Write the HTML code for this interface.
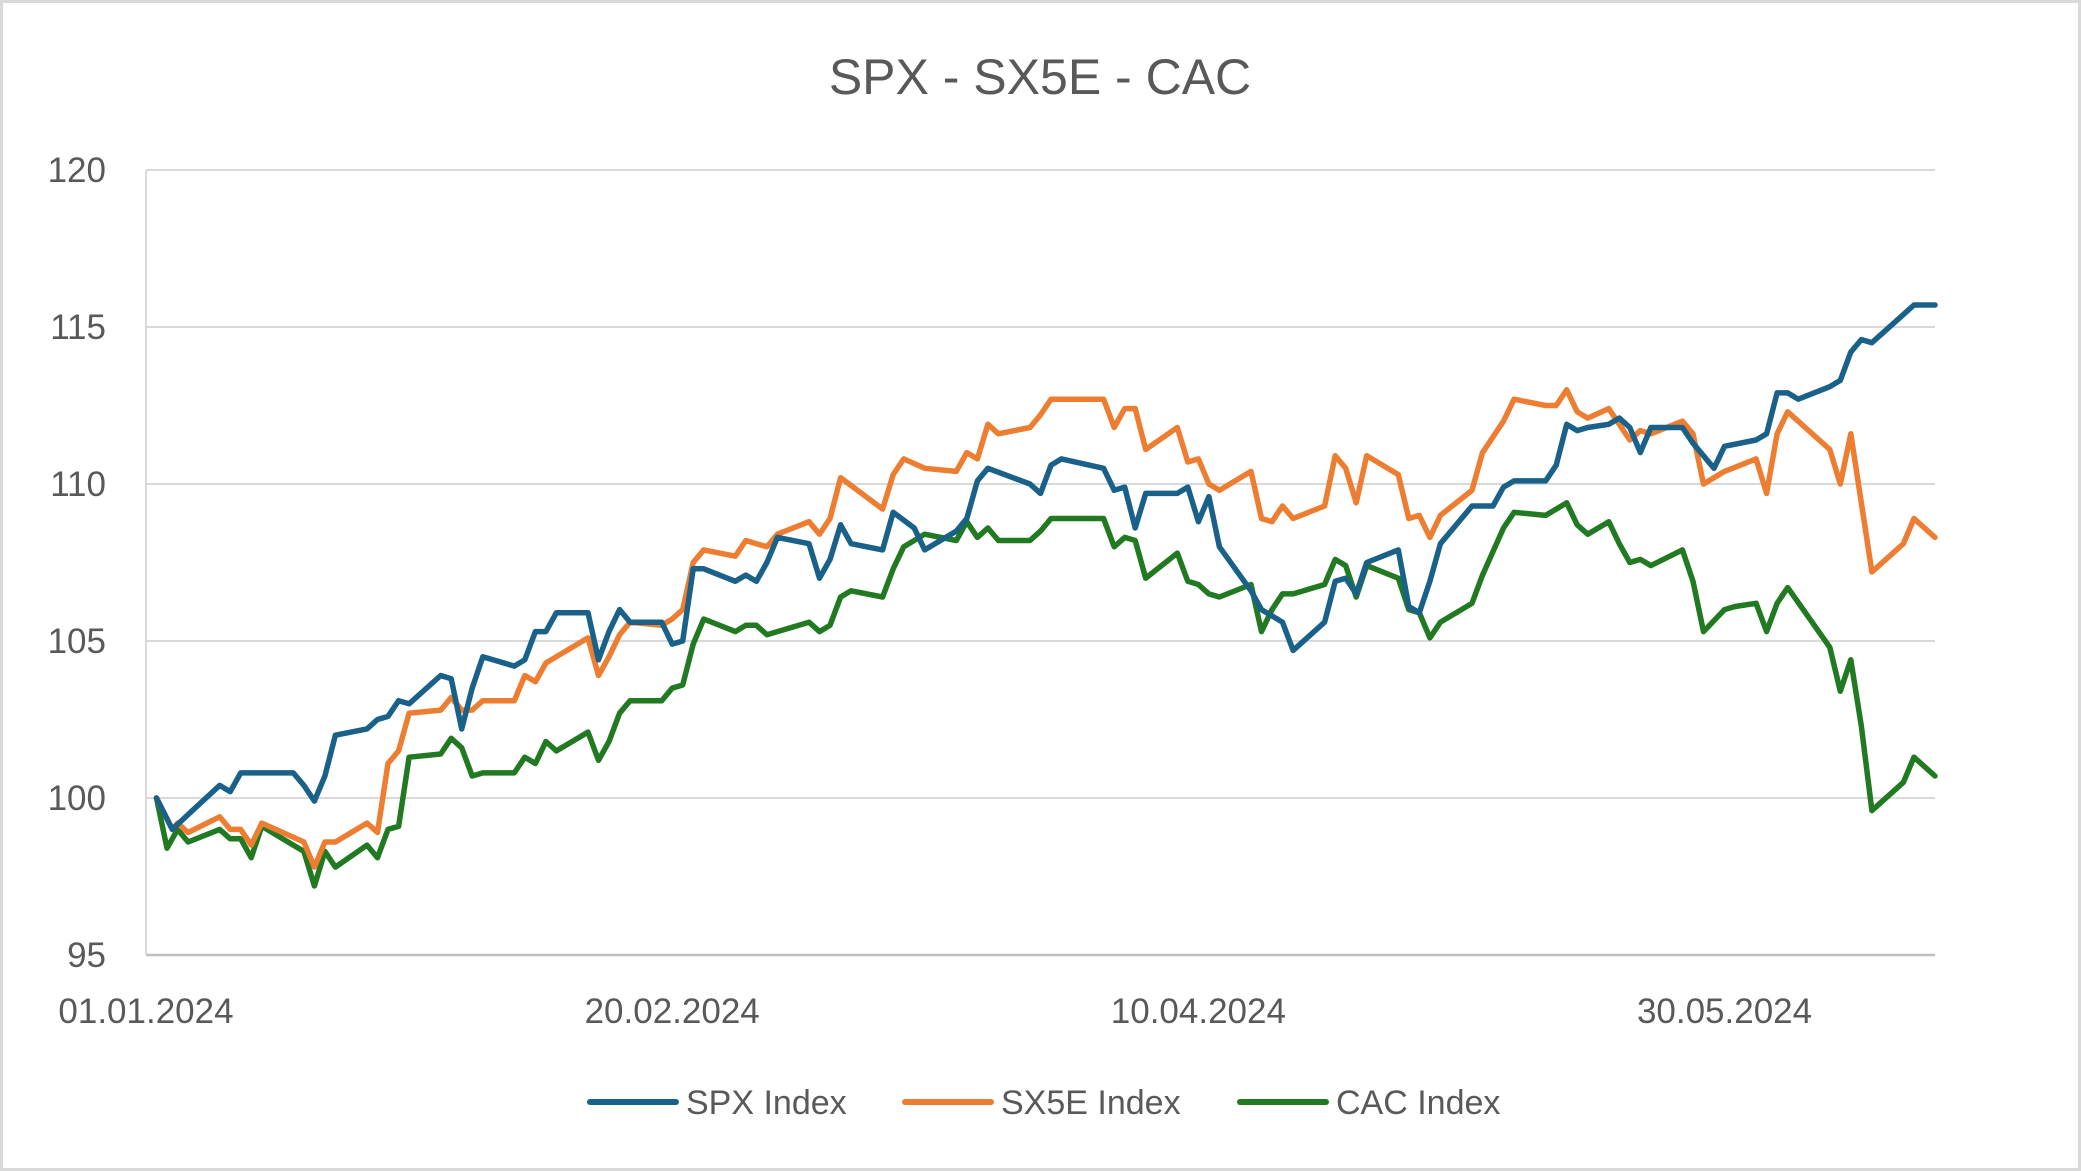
<!DOCTYPE html>
<html><head><meta charset="utf-8">
<style>
html,body{margin:0;padding:0;background:#fff;}
svg{display:block;font-family:"Liberation Sans",sans-serif;}
</style></head>
<body>
<svg id="chart" width="2081" height="1171" viewBox="0 0 2081 1171">
<rect x="1.5" y="1.5" width="2078" height="1168" fill="#fff" stroke="#d9d9d9" stroke-width="3"/>
<text x="1040" y="94" text-anchor="middle" font-size="50" fill="#595959">SPX - SX5E - CAC</text>
<g id="grid"></g>
<g id="series"></g>
<g id="legend">
<line x1="590" y1="1102" x2="676" y2="1102" stroke="#1a6189" stroke-width="6" stroke-linecap="round"/>
<text x="686" y="1114" font-size="34" fill="#595959">SPX Index</text>
<line x1="905" y1="1102" x2="991" y2="1102" stroke="#ed7d31" stroke-width="6" stroke-linecap="round"/>
<text x="1001" y="1114" font-size="34" fill="#595959">SX5E Index</text>
<line x1="1240" y1="1102" x2="1326" y2="1102" stroke="#217a21" stroke-width="6" stroke-linecap="round"/>
<text x="1336" y="1114" font-size="34" fill="#595959">CAC Index</text>
</g>
</svg>
<script>
const yTicks = [95,100,105,110,115,120];
const xTickDays = [0,50,100,150];
const xTickLabels = ["01.01.2024","20.02.2024","10.04.2024","30.05.2024"];
const spxDays = [1,2.5,4.4,7,8,9,10,14,15,16,17,18,21,22,23,24,25,28,29,30,31,32,35,36,37,38,39,42,43,44,45,46,49,50,51,52,53,56,57,58,59,60,63,64,65,66,67,70,71,73,74,77,78,79,80,84,85,86,87,91,92,93,94,95,98,99,100,101,102,105,106,108,109,112,113,114,115,116,119,120,121,122,123,126,128,129,130,133,134,135,136,137,139,140,141,142,143,146,147,149,150,153,154,155,156,157,160,161,162,163,164,168,170];
const spxVals = [100,99.0,99.6,100.4,100.2,100.8,100.8,100.8,100.4,99.9,100.7,102.0,102.2,102.5,102.6,103.1,103.0,103.9,103.8,102.2,103.5,104.5,104.2,104.4,105.3,105.3,105.9,105.9,104.4,105.3,106.0,105.6,105.6,104.9,105.0,107.3,107.3,106.9,107.1,106.9,107.5,108.3,108.1,107.0,107.6,108.7,108.1,107.9,109.1,108.6,107.9,108.5,108.9,110.1,110.5,110.0,109.7,110.6,110.8,110.5,109.8,109.9,108.6,109.7,109.7,109.9,108.8,109.6,108.0,106.6,106.0,105.6,104.7,105.6,106.9,107.0,106.5,107.5,107.9,106.1,105.9,106.9,108.1,109.3,109.3,109.9,110.1,110.1,110.6,111.9,111.7,111.8,111.9,112.1,111.8,111.0,111.8,111.8,111.3,110.5,111.2,111.4,111.6,112.9,112.9,112.7,113.1,113.3,114.2,114.6,114.5,115.7,115.7];
const sx5eDays = [1,2.5,3,4,7,8,9,10,11,15,16,17,18,21,22,23,24,25,28,29,30,31,32,35,36,37,38,39,42,43,44,45,46,49,50,51,52,53,56,57,58,59,60,63,64,65,66,70,71,72,74,77,78,79,80,81,84,85,86,91,92,93,94,95,98,99,100,101,102,105,106,107,108,109,112,113,114,115,116,119,120,121,122,123,126,127,129,130,133,134,135,136,137,139,140,141,142,143,146,147,148,150,153,154,155,156,160,161,162,164,167,168,170];
const sx5eVals = [100,99.0,99.2,98.9,99.4,99.0,99.0,98.5,99.2,98.6,97.8,98.6,98.6,99.2,98.9,101.1,101.5,102.7,102.8,103.2,102.8,102.8,103.1,103.1,103.9,103.7,104.3,104.5,105.1,103.9,104.5,105.2,105.6,105.5,105.7,106.0,107.5,107.9,107.7,108.2,108.1,108.0,108.4,108.8,108.4,108.9,110.2,109.2,110.3,110.8,110.5,110.4,111.0,110.8,111.9,111.6,111.8,112.2,112.7,112.7,111.8,112.4,112.4,111.1,111.8,110.7,110.8,110.0,109.8,110.4,108.9,108.8,109.3,108.9,109.3,110.9,110.5,109.4,110.9,110.3,108.9,109.0,108.3,109.0,109.8,111.0,112.0,112.7,112.5,112.5,113.0,112.3,112.1,112.4,111.9,111.4,111.7,111.6,112.0,111.6,110.0,110.4,110.8,109.7,111.6,112.3,111.1,110.0,111.6,107.2,108.1,108.9,108.3];
const cacDays = [1,2,3,4,7,8,9,10,11,14,15,16,17,18,21,22,23,24,25,28,29,30,31,32,35,36,37,38,39,42,43,44,45,46,49,50,51,52,53,56,57,58,59,63,64,65,66,67,70,71,72,74,77,78,79,80,81,84,85,86,91,92,93,94,95,98,99,100,101,102,105,106,107,108,109,112,113,114,115,116,119,120,121,122,123,126,127,129,130,133,134,135,136,137,139,140,141,142,143,146,147,148,150,151,153,154,155,156,160,161,162,163,164,167,168,170];
const cacVals = [100,98.4,99.0,98.6,99.0,98.7,98.7,98.1,99.1,98.5,98.3,97.2,98.3,97.8,98.5,98.1,99.0,99.1,101.3,101.4,101.9,101.6,100.7,100.8,100.8,101.3,101.1,101.8,101.5,102.1,101.2,101.8,102.7,103.1,103.1,103.5,103.6,104.9,105.7,105.3,105.5,105.5,105.2,105.6,105.3,105.5,106.4,106.6,106.4,107.3,108.0,108.4,108.2,108.8,108.3,108.6,108.2,108.2,108.5,108.9,108.9,108.0,108.3,108.2,107.0,107.8,106.9,106.8,106.5,106.4,106.8,105.3,106.0,106.5,106.5,106.8,107.6,107.4,106.4,107.4,107.0,106.0,105.9,105.1,105.6,106.2,107.1,108.6,109.1,109.0,109.2,109.4,108.7,108.4,108.8,108.1,107.5,107.6,107.4,107.9,106.9,105.3,106.0,106.1,106.2,105.3,106.2,106.7,104.8,103.4,104.4,102.3,99.6,100.5,101.3,100.7];

const NS = "http://www.w3.org/2000/svg";
const X0 = 146, X1 = 1935, DMAX = 170, Y0 = 955, Y1 = 170, VMIN = 95, VMAX = 120;
function xScale(d){ return X0 + (d / DMAX) * (X1 - X0); }
function yScale(v){ return Y0 - (v - VMIN) / (VMAX - VMIN) * (Y0 - Y1); }
const grid = document.getElementById('grid');
const series = document.getElementById('series');

yTicks.forEach(t => {
  const y = yScale(t);
  const ln = document.createElementNS(NS, 'line');
  ln.setAttribute('x1', X0); ln.setAttribute('x2', X1);
  ln.setAttribute('y1', y); ln.setAttribute('y2', y);
  ln.setAttribute('stroke', t === VMIN ? '#bfbfbf' : '#d9d9d9');
  ln.setAttribute('stroke-width', t === VMIN ? 2.5 : 2);
  
  
  grid.appendChild(ln);
  const tx = document.createElementNS(NS, 'text');
  tx.setAttribute('x', 106); tx.setAttribute('y', y + 12);
  tx.setAttribute('text-anchor', 'end'); tx.setAttribute('font-size', '35');
  tx.setAttribute('fill', '#595959');
  tx.textContent = t;
  
  
  grid.appendChild(tx);
});
const ax = document.createElementNS(NS, 'line');
ax.setAttribute('x1', X0); ax.setAttribute('x2', X0);
ax.setAttribute('y1', Y1); ax.setAttribute('y2', Y0);
ax.setAttribute('stroke', '#d9d9d9'); ax.setAttribute('stroke-width', 2);


grid.appendChild(ax);
xTickDays.forEach((d, i) => {
  const tx = document.createElementNS(NS, 'text');
  tx.setAttribute('x', xScale(d)); tx.setAttribute('y', 1023);
  tx.setAttribute('text-anchor', 'middle'); tx.setAttribute('font-size', '35');
  tx.setAttribute('fill', '#595959');
  tx.textContent = xTickLabels[i];
  
  
  grid.appendChild(tx);
});
function drawLine(days, vals, color, name){
  const p = document.createElementNS(NS, 'polyline');
  p.setAttribute('points', days.map((d, i) => xScale(d).toFixed(1) + ',' + yScale(vals[i]).toFixed(1)).join(' '));
  p.setAttribute('fill', 'none'); p.setAttribute('stroke', color);
  p.setAttribute('stroke-width', 5.5); p.setAttribute('stroke-linejoin', 'round'); p.setAttribute('stroke-linecap', 'round');
  
  
  series.appendChild(p);
}
drawLine(cacDays, cacVals, '#217a21', 'cac-index-line');
drawLine(sx5eDays, sx5eVals, '#ed7d31', 'sx5e-index-line');
drawLine(spxDays, spxVals, '#1a6189', 'spx-index-line');
</script>
</body></html>
